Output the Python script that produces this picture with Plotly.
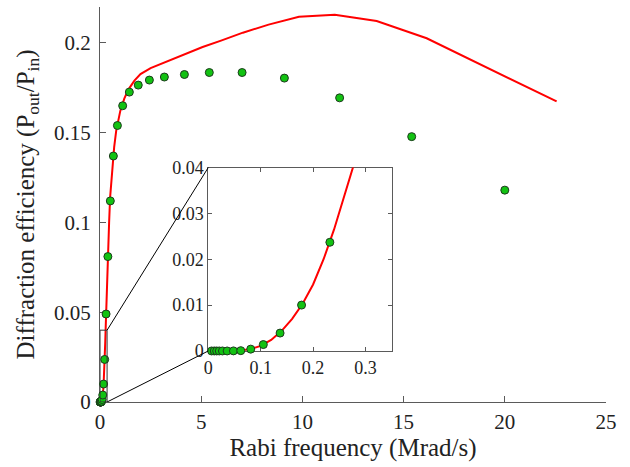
import plotly.graph_objects as go

# Measured points (Rabi frequency in Mrad/s, diffraction efficiency)
rabi_pts = [0.0063, 0.0114, 0.016, 0.021, 0.027, 0.036, 0.048, 0.062, 0.081, 0.105,
            0.137, 0.178, 0.232, 0.30, 0.39, 0.51, 0.66, 0.86, 1.12, 1.45,
            1.89, 2.44, 3.18, 4.17, 5.40, 7.02, 9.11, 11.84, 15.4, 20.0]
eff_pts = [0.0, 0.0, 0.0, 0.0, 0.0, 0.0, 0.00002, 0.00007, 0.0004, 0.0014,
           0.0039, 0.0100, 0.0237, 0.049, 0.081, 0.112, 0.137, 0.154, 0.165, 0.1726,
           0.1765, 0.1793, 0.1810, 0.1824, 0.1835, 0.1835, 0.1804, 0.1694, 0.1478, 0.118]

# Theory curve
rabi_line = [0.0, 0.02, 0.04, 0.06, 0.08, 0.10, 0.12, 0.14, 0.16, 0.18, 0.20, 0.22,
             0.24, 0.26, 0.28, 0.30, 0.35, 0.40, 0.45, 0.50, 0.60, 0.70, 0.80, 0.90,
             1.0, 1.2, 1.4, 1.7, 2.0, 2.5, 3.0, 3.6, 4.3, 5.07, 5.98, 7.06, 8.33,
             9.83, 11.6, 13.67, 16.14, 19.1, 22.56]
eff_line = [0.0, 0.0, 0.00002, 0.0001, 0.0004, 0.0011, 0.0024, 0.0044, 0.0070, 0.0103,
            0.0145, 0.0200, 0.0265, 0.0335, 0.041, 0.049, 0.066, 0.084, 0.100, 0.114,
            0.131, 0.142, 0.151, 0.157, 0.162, 0.169, 0.174, 0.179, 0.1826, 0.186,
            0.1883, 0.191, 0.1945, 0.1977, 0.2013, 0.2057, 0.2102, 0.2146, 0.2157,
            0.2122, 0.2026, 0.1863, 0.1674]

main_xticks = [0, 5, 10, 15, 20, 25]
main_yticks = [0, 0.05, 0.1, 0.15, 0.2]
inset_xticks = [0, 0.1, 0.2, 0.3]
inset_yticks = [0, 0.01, 0.02, 0.03, 0.04]

main_xrange = [0, 25]
main_yrange = [0, 0.22]
inset_xrange = [0, 0.35]
inset_yrange = [0, 0.04]
inset_xdomain = [0.214, 0.5765]
inset_ydomain = [0.1292, 0.5936]

FONT = "Liberation Serif"
AXC = "#5a5a5a"
RED = "#ff0000"
GREEN = "#12c212"
EDGE = "#1d3a1d"

fig = go.Figure()
fig.add_trace(go.Scatter(x=rabi_line, y=eff_line, mode="lines",
                         line=dict(color=RED, width=2), xaxis="x", yaxis="y",
                         showlegend=False, hoverinfo="skip"))
fig.add_trace(go.Scatter(x=rabi_pts, y=eff_pts, mode="markers",
                         marker=dict(color=GREEN, size=8, line=dict(color=EDGE, width=1)),
                         xaxis="x", yaxis="y", cliponaxis=False, showlegend=False))

in_line = [(a, b) for a, b in zip(rabi_line, eff_line) if a <= 0.32]
fig.add_trace(go.Scatter(x=[p[0] for p in in_line], y=[p[1] for p in in_line], mode="lines",
                         line=dict(color=RED, width=2), xaxis="x2", yaxis="y2",
                         showlegend=False, cliponaxis=True))
in_pts = [(a, b) for a, b in zip(rabi_pts, eff_pts)
          if a <= inset_xrange[1] and b <= inset_yrange[1]]
fig.add_trace(go.Scatter(x=[p[0] for p in in_pts], y=[p[1] for p in in_pts], mode="markers",
                         marker=dict(color=GREEN, size=8, line=dict(color=EDGE, width=1)),
                         xaxis="x2", yaxis="y2", cliponaxis=False, showlegend=False))

# zoom rectangle and connector lines (in main data coordinates)
ix0 = inset_xdomain[0] * (main_xrange[1] - main_xrange[0]) + main_xrange[0]
iy0 = inset_ydomain[0] * (main_yrange[1] - main_yrange[0]) + main_yrange[0]
iy1 = inset_ydomain[1] * (main_yrange[1] - main_yrange[0]) + main_yrange[0]
shapes = [
    dict(type="rect", xref="x", yref="y", x0=inset_xrange[0], x1=inset_xrange[1],
         y0=inset_yrange[0], y1=inset_yrange[1], line=dict(color="#333333", width=1)),
    dict(type="line", xref="x", yref="y", x0=inset_xrange[1], y0=inset_yrange[1],
         x1=ix0, y1=iy1, line=dict(color="black", width=1)),
    dict(type="line", xref="x", yref="y", x0=inset_xrange[1], y0=inset_yrange[0],
         x1=ix0, y1=iy0, line=dict(color="black", width=1)),
]

tickfont_main = dict(family=FONT, size=21, color="#222222")
tickfont_in = dict(family=FONT, size=18, color="#222222")

fig.update_layout(
    width=630, height=467,
    margin=dict(l=100, r=24, t=7, b=65, autoexpand=False),
    paper_bgcolor="white", plot_bgcolor="white",
    shapes=shapes,
    xaxis=dict(range=main_xrange, tickvals=main_xticks, ticks="inside", ticklen=6,
               tickcolor=AXC, showline=True, linecolor=AXC, linewidth=1, showgrid=False,
               zeroline=False, tickfont=tickfont_main, ticklabelstandoff=1, automargin=False,
               title=dict(text="Rabi frequency (Mrad/s)", font=dict(family=FONT, size=25, color="#222222"),
                          standoff=0),
               layer="below traces", anchor="y"),
    yaxis=dict(range=main_yrange, tickvals=main_yticks, ticks="inside", ticklen=6,
               tickcolor=AXC, showline=True, linecolor=AXC, linewidth=1, showgrid=False,
               zeroline=False, tickfont=tickfont_main, ticklabelstandoff=4, automargin=False,
               title=dict(text="Diffraction efficiency (P<sub>out</sub>/P<sub>in</sub>)",
                          font=dict(family=FONT, size=25, color="#222222"), standoff=12),
               layer="below traces", anchor="x"),
    xaxis2=dict(domain=inset_xdomain, range=inset_xrange, tickvals=inset_xticks,
                ticks="inside", ticklen=4, tickcolor=AXC, showline=True, linecolor=AXC,
                linewidth=1, mirror="ticks", showgrid=False, zeroline=False, automargin=False,
                tickfont=tickfont_in, anchor="y2", layer="below traces", ticklabelstandoff=0),
    yaxis2=dict(domain=inset_ydomain, range=inset_yrange, tickvals=inset_yticks,
                ticks="inside", ticklen=4, tickcolor=AXC, showline=True, linecolor=AXC,
                linewidth=1, mirror="ticks", showgrid=False, zeroline=False, automargin=False,
                tickfont=tickfont_in, anchor="x2", layer="below traces", ticklabelstandoff=0),
)

fig.write_html("out.html", config={"displayModeBar": False},
               post_script="document.body.style.margin='0';")
